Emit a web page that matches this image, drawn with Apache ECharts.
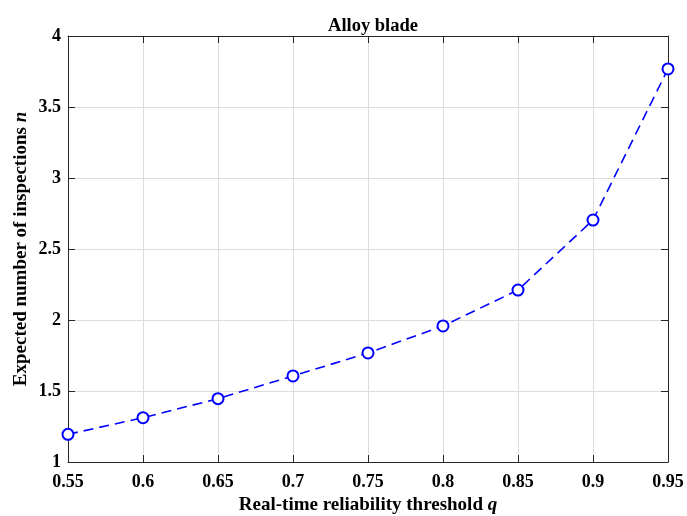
<!DOCTYPE html>
<html><head><meta charset="utf-8">
<script src="https://cdn.jsdelivr.net/npm/echarts@6/dist/echarts.min.js"></script>
<style>html,body{margin:0;padding:0;background:#fff}#c{width:687px;height:516px}</style>
</head><body><div id="c"></div>
<script>
const categories = [0.55, 0.6, 0.65, 0.7, 0.75, 0.8, 0.85, 0.9, 0.95];
const values = [1.195, 1.312, 1.446, 1.606, 1.768, 1.958, 2.211, 2.704, 3.768];
const titleText = 'Alloy blade';
const xName = 'Real-time reliability threshold ';
const yName = 'Expected number of inspections ';
const FONT = '"Liberation Serif", "Times New Roman", serif';

const chart = echarts.init(document.getElementById('c'));
const data = categories.map((c, i) => [c, values[i]]);
const axisCommon = {
  axisLine: {show: true, onZero: false, lineStyle: {color: '#262626', width: 1}},
  axisTick: {show: true, inside: true, length: 7, lineStyle: {color: '#262626'}},
};
const nameStyle = {fontFamily: FONT, fontWeight: 'bold', fontSize: 19, color: '#000',
  rich: {i: {fontFamily: FONT, fontWeight: 'bold', fontStyle: 'italic', fontSize: 19, color: '#000'}}};
chart.setOption({
  animation: false,
  title: {text: titleText, left: 368, top: 12, textAlign: 'center',
    textStyle: {fontFamily: FONT, fontWeight: 'bold', fontSize: 18.5, color: '#000'}},
  grid: {left: 68, right: 19, top: 36, bottom: 54, containLabel: false, outerBoundsMode: 'none'},
  xAxis: [
    Object.assign({type: 'value', min: 0.55, max: 0.95, interval: 0.05, position: 'bottom',
      name: xName + '{i|q}', nameLocation: 'middle', nameGap: 33,
      nameTextStyle: nameStyle,
      axisLabel: {fontFamily: FONT, fontWeight: 'bold', fontSize: 18, color: '#000', margin: 11,
        formatter: v => String(+v.toFixed(2))},
      splitLine: {show: true, lineStyle: {color: '#dcdcdc', width: 1}}}, axisCommon),
    Object.assign({type: 'value', min: 0.55, max: 0.95, interval: 0.05, position: 'top',
      axisLabel: {show: false}, splitLine: {show: false}}, axisCommon)
  ],
  yAxis: [
    Object.assign({type: 'value', min: 1, max: 4, interval: 0.5, position: 'left',
      name: yName + '{i|n}', nameLocation: 'middle', nameGap: 37, nameRotate: 90,
      nameMoveOverlap: false,
      nameTextStyle: nameStyle,
      axisLabel: {fontFamily: FONT, fontWeight: 'bold', fontSize: 18, color: '#000', margin: 7},
      splitLine: {show: true, lineStyle: {color: '#dcdcdc', width: 1}}}, axisCommon),
    Object.assign({type: 'value', min: 1, max: 4, interval: 0.5, position: 'right',
      axisLabel: {show: false}, splitLine: {show: false}}, axisCommon)
  ],
  series: [{
    type: 'line', data: data, xAxisIndex: 0, yAxisIndex: 0,
    symbol: 'emptyCircle', symbolSize: 11,
    lineStyle: {color: '#0000ff', width: 1.6, type: [10, 6]},
    itemStyle: {color: '#0000ff', borderColor: '#0000ff', borderWidth: 1.4},
    clip: false
  }]
});
</script></body></html>
